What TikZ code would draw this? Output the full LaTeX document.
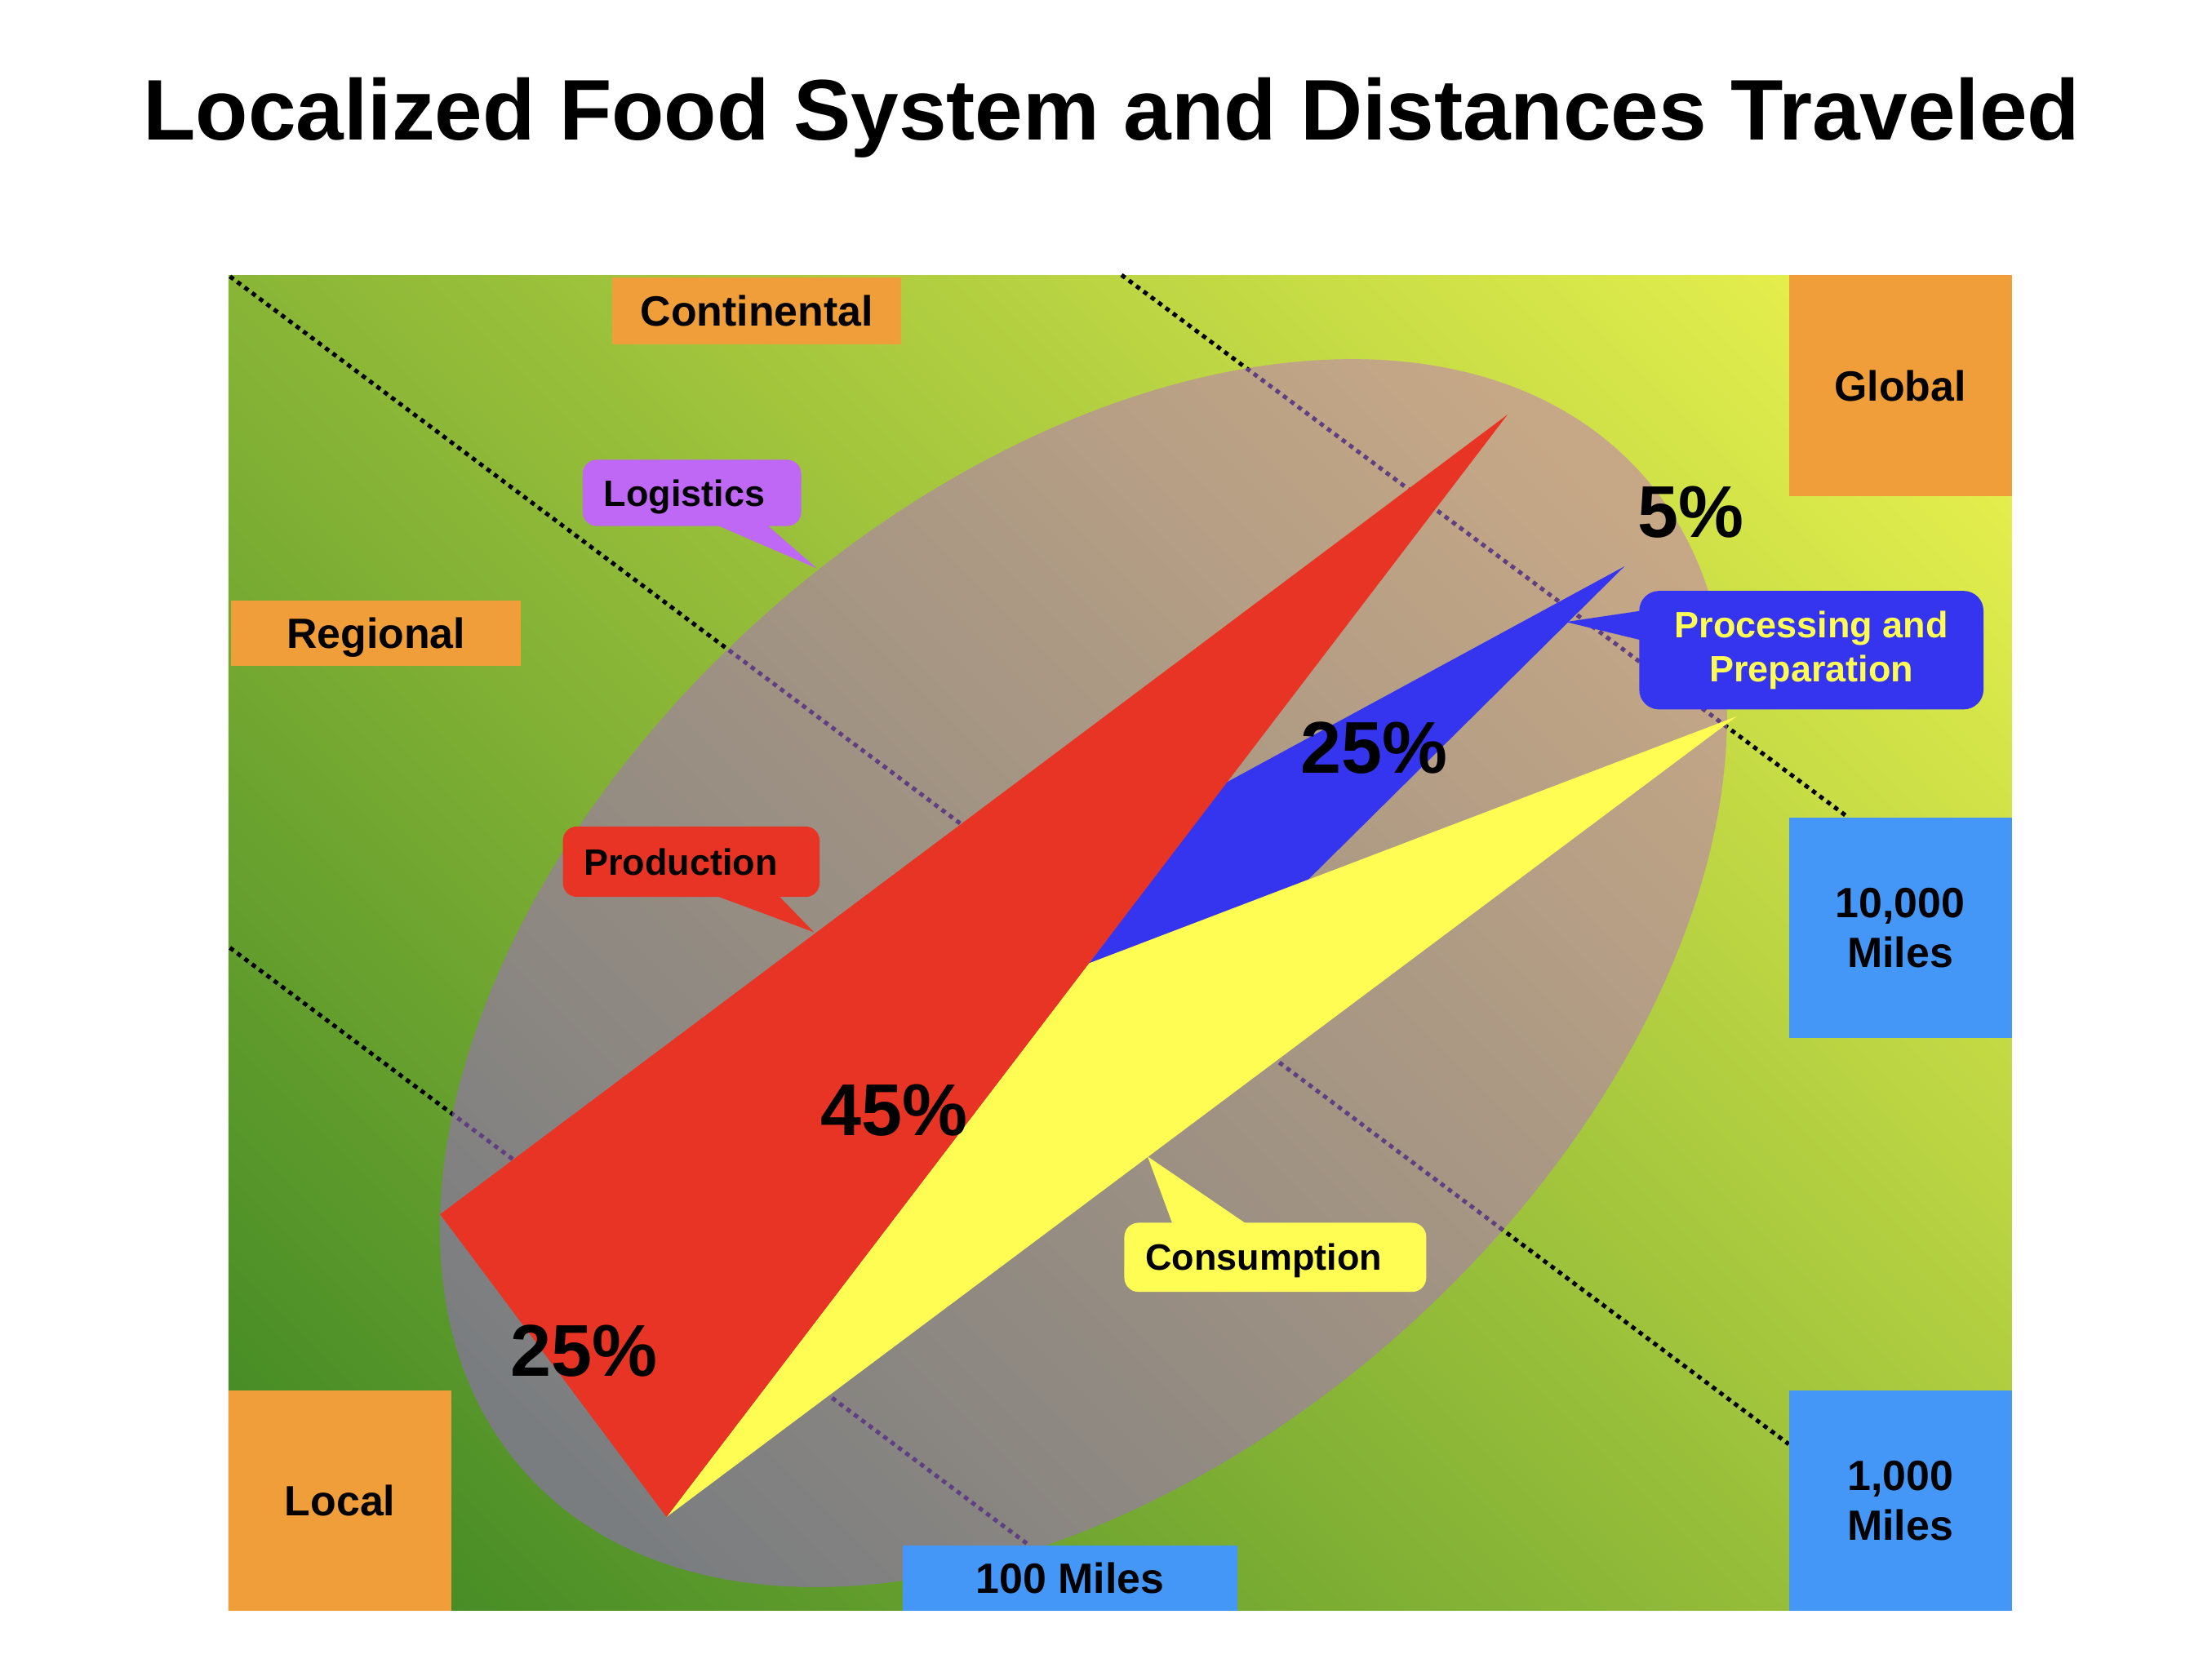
\documentclass[tikz,border=0pt]{standalone}
\usepackage{fontspec}
\setmainfont{Liberation Sans}
\usepackage{tikz}
\usetikzlibrary{positioning}
\usepackage{xcolor}

\definecolor{fielddark}{RGB}{58,132,35}
\definecolor{fieldlight}{RGB}{242,247,80}
\definecolor{ovalgrey}{RGB}{122,125,128}
\definecolor{ovaltan}{RGB}{198,168,134}
\definecolor{zoneorange}{RGB}{240,158,58}
\definecolor{distblue}{RGB}{69,151,247}
\definecolor{prodred}{RGB}{232,52,36}
\definecolor{procblue}{RGB}{53,53,240}
\definecolor{consyellow}{RGB}{255,253,84}
\definecolor{logpurple}{RGB}{191,104,245}
\definecolor{ringpurple}{RGB}{96,62,130}

\pgfdeclarehorizontalshading{fieldramp}{100bp}{color(0bp)=(fielddark); color(14bp)=(fielddark);
  color(86bp)=(fieldlight); color(100bp)=(fieldlight)}

\begin{document}
\begin{tikzpicture}[
  x=1pt, y=-1pt,
  scalebox/.style={inner sep=0pt, align=center, font=\fontsize{30}{35}\selectfont\bfseries},
  zone/.style={scalebox, fill=zoneorange},
  dist/.style={scalebox, fill=distblue},
  bubble/.style={rounded corners=10pt, inner xsep=15pt, inner ysep=0pt, align=left,
                 text height=18.7pt, text depth=0pt,
                 font=\fontsize{26}{31}\selectfont\bfseries},
  pct/.style={inner sep=0pt, font=\fontsize{52}{60}\selectfont\bfseries},
  ring/.style={line width=3pt, dash pattern=on 3.2pt off 3.3pt},
  oval/.style={shift={(768,690)}, rotate=41.8},
]
\useasboundingbox (0,0) rectangle (1568,1185);
\node[anchor=base, inner sep=0pt, font=\fontsize{61}{70}\selectfont\bfseries] (title) at (788,99)
  {Localized Food System and Distances Traveled};

\shade[shading=fieldramp, shading angle=45] (162,195) rectangle (1426,1142);

\coordinate (a1) at (163,196); \coordinate (a2) at (1268,1024);
\coordinate (b1) at (795,195); \coordinate (b2) at (1308,578);
\coordinate (c1) at (163,672); \coordinate (c2) at (730,1096);
\draw[ring] (a1) -- (a2); \draw[ring] (b1) -- (b2); \draw[ring] (c1) -- (c2);

\shade[oval, bottom color=ovalgrey, top color=ovaltan, shading angle=-45] (0,0) ellipse [x radius=531, y radius=340];
\begin{scope}
  \clip[oval] (0,0) ellipse [x radius=531, y radius=340];
  \draw[ring, ringpurple] (a1) -- (a2); \draw[ring, ringpurple] (b1) -- (b2); \draw[ring, ringpurple] (c1) -- (c2);
\end{scope}

\fill[procblue] (772,683) -- (868,555.5) -- (1151.5,401.6) -- (927.5,623.5) -- cycle;
\fill[consyellow] (472.5,1075.6) -- (772,683) -- (1231,508) -- cycle;
\fill[prodred] (312,861) -- (1068.6,294) -- (472.5,1075.6) -- cycle;

\node[zone, minimum width=205pt, minimum height=47pt] (continental) at (536.5,220.5) {Continental};
\node[zone, minimum width=205pt, minimum height=46pt, text height=21.6pt, text depth=0pt] (regional) at (266.5,449) {Regional};
\node[zone, minimum width=158pt, minimum height=157pt] (global) at (1347,273.5) {Global};
\node[zone, minimum width=158pt, minimum height=156pt] (local) at (241,1064) {Local};
\node[dist, minimum width=158pt, minimum height=156pt] (tenk) at (1347,658) {10,000\\Miles};
\node[dist, minimum width=158pt, minimum height=156pt] (onek) at (1347,1064) {1,000\\Miles};
\node[dist, minimum width=237pt, minimum height=46pt] (hundred) at (758.5,1119) {100 Miles};

\node[pct] (pctlocal) at (414,958) {25\%};
\node[pct] (pctprod) at (633.6,787) {45\%};
\node[pct] (pctproc) at (974,530.4) {25\%};
\node[pct] (pctglobal) at (1198.6,363) {5\%};

\coordinate (logtip) at (579,403);
\coordinate (prodtip) at (577,661);
\coordinate (constip) at (813.5,820);
\coordinate (proctip) at (1110,441);

\node[bubble, fill=logpurple, text width=125pt, minimum height=47pt] (logi) at (490.5,349.5) {Logistics};
\fill[logpurple] ([xshift=15pt,yshift=2pt]logi.south) -- (logtip) -- ([xshift=52pt,yshift=2pt]logi.south) -- cycle;
\node[bubble, fill=prodred, text width=152pt, minimum height=50pt] (prod) at (490,611) {Production};
\fill[prodred] ([xshift=15pt,yshift=2pt]prod.south) -- (prodtip) -- ([xshift=61pt,yshift=2pt]prod.south) -- cycle;
\node[bubble, fill=consyellow, text width=184pt, minimum height=49pt] (cons) at (904,891.5) {Consumption};
\fill[consyellow] ([xshift=-72.5pt,yshift=-2pt]cons.north) -- (constip) -- ([xshift=-19pt,yshift=-2pt]cons.north) -- cycle;
\node[bubble, fill=procblue, text=consyellow, align=center, rounded corners=14pt,
      text height=, text depth=,
      minimum width=244pt, minimum height=84pt, inner xsep=0pt] (proc) at (1284,461) {Processing and\\Preparation};
\fill[procblue] ([xshift=2pt,yshift=28pt]proc.west) -- (proctip) -- ([xshift=2pt,yshift=7pt]proc.west) -- cycle;
\end{tikzpicture}
\end{document}
